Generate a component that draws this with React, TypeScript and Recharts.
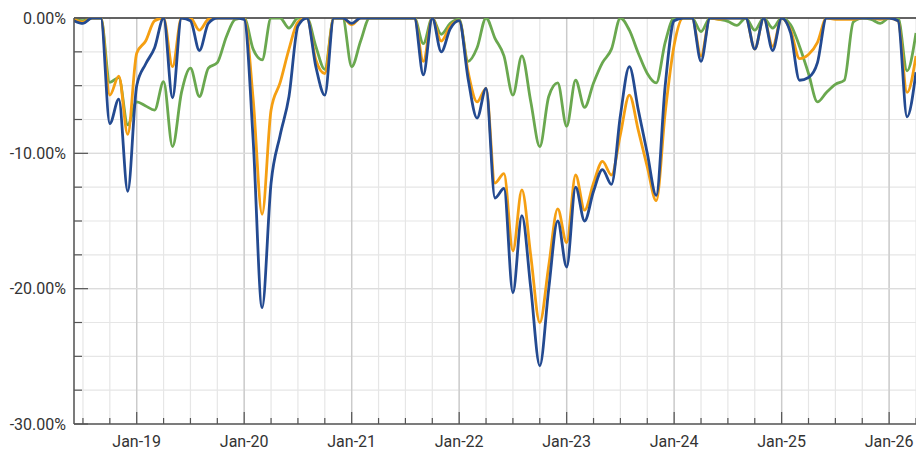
import React from 'react';
import { LineChart, Line, XAxis, YAxis, CartesianGrid, ReferenceLine } from 'recharts';

const months: string[] = [
  'Jun-18','Jul-18','Aug-18','Sep-18','Oct-18','Nov-18','Dec-18',
  'Jan-19','Feb-19','Mar-19','Apr-19','May-19','Jun-19','Jul-19','Aug-19','Sep-19','Oct-19','Nov-19','Dec-19',
  'Jan-20','Feb-20','Mar-20','Apr-20','May-20','Jun-20','Jul-20','Aug-20','Sep-20','Oct-20','Nov-20','Dec-20',
  'Jan-21','Feb-21','Mar-21','Apr-21','May-21','Jun-21','Jul-21','Aug-21','Sep-21','Oct-21','Nov-21','Dec-21',
  'Jan-22','Feb-22','Mar-22','Apr-22','May-22','Jun-22','Jul-22','Aug-22','Sep-22','Oct-22','Nov-22','Dec-22',
  'Jan-23','Feb-23','Mar-23','Apr-23','May-23','Jun-23','Jul-23','Aug-23','Sep-23','Oct-23','Nov-23','Dec-23',
  'Jan-24','Feb-24','Mar-24','Apr-24','May-24','Jun-24','Jul-24','Aug-24','Sep-24','Oct-24','Nov-24','Dec-24',
  'Jan-25','Feb-25','Mar-25','Apr-25','May-25','Jun-25','Jul-25','Aug-25','Sep-25','Oct-25','Nov-25','Dec-25',
  'Jan-26','Feb-26','Mar-26','Apr-26',
];

// blue series (drawdown %)
const blueSeries: number[] = [
  -0.2, -0.4, 0, 0, -7.8, -6.0, -12.8,
  -5.0, -3.4, -2.2, 0, -5.9, 0, -0.2, -2.4, -0.4, 0, 0, 0,
  -0.1, -9.0, -21.4, -12.2, -8.7, -5.8, -0.6, 0, -3.6, -5.7, 0, 0,
  -0.4, 0, 0, 0, 0, 0, 0, 0, -4.2, 0, -2.5, -0.8,
  -0.2, -4.5, -7.4, -5.2, -13.3, -12.6, -20.3, -14.6, -20.0, -25.7, -20.0, -15.0,
  -18.4, -12.5, -15.0, -12.8, -11.2, -12.3, -7.2, -3.6, -6.8, -10.0, -13.1, -5.0,
  -0.2, 0, 0, -3.2, 0, 0, 0, 0, 0, -2.3, 0, -2.4,
  0, -1.1, -4.6, -4.4, -3.3, 0, 0, 0, 0, 0, 0, 0,
  0, -0.2, -7.3, -4.0,
];

// orange series
const orangeSeries: number[] = [
  -0.1, -0.3, 0, 0, -5.7, -4.3, -8.6,
  -2.6, -1.7, -0.2, 0, -3.6, 0, 0, -0.9, -0.1, 0, 0, 0,
  0, -6.0, -14.5, -6.8, -4.8, -2.3, -0.3, 0, -3.1, -4.1, 0, 0,
  -0.5, 0, 0, 0, 0, 0, 0, 0, -3.2, 0, -1.7, -0.6,
  -0.2, -4.0, -6.2, -5.2, -12.2, -11.5, -17.2, -12.7, -17.6, -22.5, -18.3, -14.1,
  -16.6, -11.6, -14.2, -12.2, -10.6, -11.6, -8.6, -5.7, -8.3, -11.0, -13.5, -7.0,
  -2.0, 0, 0, -2.8, 0, -0.1, 0, 0, 0, -2.3, 0, -2.1,
  0, -0.9, -3.0, -2.7, -1.8, 0, -0.1, -0.1, -0.1, 0, 0, -0.1,
  0, -0.2, -5.5, -2.8,
];

// green series
const greenSeries: number[] = [
  -0.1, -0.2, 0, 0, -4.75, -4.4, -7.9,
  -6.2, -6.5, -6.8, -4.7, -9.5, -5.5, -3.7, -5.8, -3.7, -3.3, -1.4, -0.1,
  0, -2.3, -3.1, 0, 0, -0.75, 0, 0, -2.1, -3.8, 0, 0,
  -3.6, -1.7, 0, 0, 0, 0, 0, 0, -1.9, 0, -1.2, -0.4,
  -0.1, -3.2, -2.2, 0, -1.5, -2.8, -5.7, -2.8, -6.2, -9.5, -5.8, -4.8,
  -8.0, -4.6, -6.6, -4.8, -3.3, -2.3, 0, -0.9, -2.6, -4.1, -4.8, -1.8,
  0, 0, 0, -1.0, 0, -0.1, -0.25, -0.55, 0, -0.9, 0, -0.75,
  0, -0.5, -2.1, -4.1, -6.2, -5.5, -4.9, -4.6, -0.3, 0, -0.1, -0.4,
  0, 0, -3.9, -1.1,
];

const yTicks: number[] = [0, -2.5, -5, -7.5, -10, -12.5, -15, -17.5, -20, -22.5, -25, -27.5, -30];

const data = months.map((m, i) => ({
  i,
  m,
  blue: blueSeries[i],
  orange: orangeSeries[i],
  green: greenSeries[i],
}));

const quarterIdx = months
  .map((m, i) => ({ m, i }))
  .filter(({ m }) => /^(Jan|Apr|Jul|Oct)/.test(m))
  .map(({ i }) => i);
const janIdx = months
  .map((m, i) => ({ m, i }))
  .filter(({ m }) => m.startsWith('Jan'))
  .map(({ i }) => i);

const FONT = 'Roboto, "Liberation Sans", Arial, sans-serif';

const XTick = (props: any) => {
  const { x, y, payload } = props;
  const isJan = janIdx.includes(payload.value);
  return (
    <g>
      <line x1={x} x2={x} y1={y} y2={y - (isJan ? 12 : 6)} stroke="#555" strokeWidth={1.2} />
      {isJan && (
        <text x={x} y={y + 23} textAnchor="middle" fontSize={16} fill="#333" fontFamily={FONT}>
          {months[payload.value]}
        </text>
      )}
    </g>
  );
};

const YTick = (props: any) => {
  const { x, y, payload } = props;
  const major = Math.abs(payload.value % 10) < 1e-9;
  return (
    <g>
      <line x1={x} x2={x + (major ? 14 : 8)} y1={y} y2={y} stroke="#555" strokeWidth={1.2} />
      {major && (
        <text x={x - 8} y={y} dy={5.7} textAnchor="end" fontSize={16} fill="#333" fontFamily={FONT}>
          {payload.value.toFixed(2) + '%'}
        </text>
      )}
    </g>
  );
};

export default function App() {
  return (
    <div style={{ position: 'absolute', left: 0, top: 0, background: '#fff' }}>
      <LineChart width={916} height={449} data={data} margin={{ top: 18, right: 0, left: 0, bottom: 0 }}>
        <CartesianGrid stroke="#e6e6e6" strokeWidth={1.2} />
        {janIdx.map((j) => (
          <ReferenceLine key={'j' + j} x={j} stroke="#cbcbcb" strokeWidth={1.4} />
        ))}
        {[-10, -20].map((v) => (
          <ReferenceLine key={'h' + v} y={v} stroke="#dcdcdc" strokeWidth={1.4} />
        ))}
        <XAxis
          dataKey="i"
          type="number"
          domain={[0, 94]}
          allowDataOverflow
          ticks={quarterIdx}
          interval={0}
          tickSize={0}
          tickMargin={0}
          tickLine={false}
          height={25}
          axisLine={{ stroke: '#555', strokeWidth: 1.5 }}
          tick={<XTick />}
        />
        <YAxis
          type="number"
          domain={[-30, 0]}
          allowDataOverflow
          ticks={yTicks}
          interval={0}
          width={74}
          tickSize={0}
          tickMargin={0}
          tickLine={false}
          axisLine={{ stroke: '#555', strokeWidth: 1.5 }}
          tick={<YTick />}
        />
        <ReferenceLine y={0} stroke="#333" strokeWidth={1.6} />
        <Line type="monotone" dataKey="green" stroke="#6aa84f" strokeWidth={2.8} dot={false} isAnimationActive={false} />
        <Line type="monotone" dataKey="orange" stroke="#f59f12" strokeWidth={2.8} dot={false} isAnimationActive={false} />
        <Line type="monotone" dataKey="blue" stroke="#234a91" strokeWidth={2.8} dot={false} isAnimationActive={false} />
      </LineChart>
    </div>
  );
}
